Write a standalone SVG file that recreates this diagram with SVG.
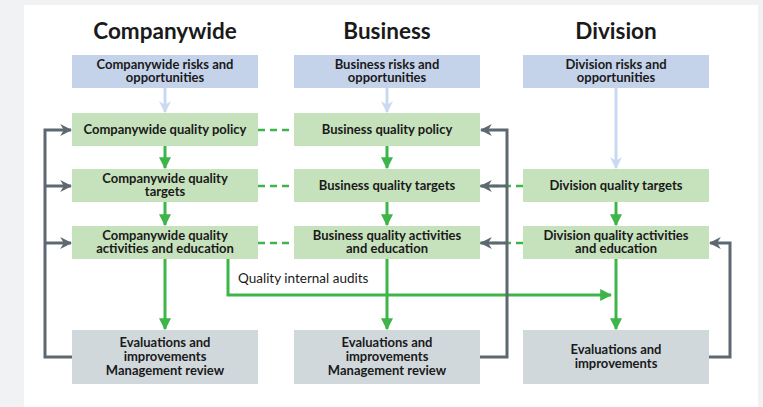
<svg xmlns="http://www.w3.org/2000/svg" width="763" height="407" viewBox="0 0 763 407">
<style>
text{font-family:Lato,"Open Sans","Liberation Sans",sans-serif;fill:#1a1a1a;text-anchor:middle}
.t{font-size:22.5px;font-weight:bold}
.b{font-size:13px;font-weight:bold}
.blue{fill:#c5d3ea}
.green{fill:#c6e2bc}
.gray{fill:#d1d8dc}
.ga{stroke:#3db54a;stroke-width:3;fill:none}
.gd{stroke:#3db54a;stroke-width:2.5;fill:none;stroke-dasharray:7 5}
.fb{stroke:#5e6870;stroke-width:3;fill:none}
.lb{stroke:#c9daf0;stroke-width:3;fill:none}
</style>
<defs>
<marker id="ag" viewBox="0 0 10 10" refX="9" refY="5" markerWidth="4" markerHeight="4" orient="auto" markerUnits="strokeWidth"><path d="M0,0 L10,5 L0,10 Z" fill="#3db54a"/></marker>
<marker id="ab" viewBox="0 0 10 10" refX="9" refY="5" markerWidth="4" markerHeight="4" orient="auto" markerUnits="strokeWidth"><path d="M0,0 L10,5 L0,10 L3,5 Z" fill="#c9daf0"/></marker>
<marker id="ay" viewBox="0 0 10 10" refX="9" refY="5" markerWidth="4" markerHeight="4" orient="auto" markerUnits="strokeWidth"><path d="M0,0 L10,5 L0,10 L3,5 Z" fill="#5e6870"/></marker>
</defs>
<rect width="763" height="407" fill="#f1f2f4"/>
<rect x="24" y="5" width="734" height="402" fill="#ffffff"/>
<text class="t" x="165" y="39">Companywide</text>
<text class="t" x="387" y="39">Business</text>
<text class="t" x="616" y="39">Division</text>
<g id="connectors">
<line class="lb" x1="165" y1="88" x2="165" y2="112" marker-end="url(#ab)"/>
<line class="lb" x1="387" y1="88" x2="387" y2="112" marker-end="url(#ab)"/>
<line class="lb" x1="616" y1="88" x2="616" y2="168" marker-end="url(#ab)"/>
<line class="ga" x1="165" y1="146" x2="165" y2="168" marker-end="url(#ag)"/>
<line class="ga" x1="165" y1="202" x2="165" y2="225" marker-end="url(#ag)"/>
<line class="ga" x1="165" y1="259" x2="165" y2="329" marker-end="url(#ag)"/>
<line class="ga" x1="387" y1="146" x2="387" y2="168" marker-end="url(#ag)"/>
<line class="ga" x1="387" y1="202" x2="387" y2="225" marker-end="url(#ag)"/>
<line class="ga" x1="387" y1="259" x2="387" y2="329" marker-end="url(#ag)"/>
<line class="ga" x1="616" y1="202" x2="616" y2="225" marker-end="url(#ag)"/>
<line class="ga" x1="616" y1="259" x2="616" y2="329" marker-end="url(#ag)"/>
<line class="gd" x1="258" y1="130" x2="294" y2="130"/>
<line class="gd" x1="258" y1="186" x2="294" y2="186"/>
<line class="gd" x1="258" y1="243" x2="294" y2="243"/>
<line class="gd" x1="480" y1="186" x2="523" y2="186"/>
<line class="gd" x1="480" y1="243" x2="523" y2="243"/>
<polyline class="ga" points="228,259 228,295 611,295" marker-end="url(#ag)"/>
<text x="238" y="283" style="font-size:13.5px;text-anchor:start">Quality internal audits</text>
<polyline class="fb" points="72,357 45,357 45,130 71,130" marker-end="url(#ay)"/>
<line class="fb" x1="45" y1="186" x2="71" y2="186" marker-end="url(#ay)"/>
<line class="fb" x1="45" y1="243" x2="71" y2="243" marker-end="url(#ay)"/>
<polyline class="fb" points="480,357 507,357 507,130 481,130" marker-end="url(#ay)"/>
<line class="fb" x1="507" y1="186" x2="481" y2="186" marker-end="url(#ay)"/>
<line class="fb" x1="507" y1="243" x2="481" y2="243" marker-end="url(#ay)"/>
<polyline class="fb" points="709,357 730,357 730,243 710,243" marker-end="url(#ay)"/>
</g>
<g id="c-risk"><rect class="blue" x="72" y="55" width="186" height="33"/><text class="b" x="165" y="69">Companywide risks and</text><text class="b" x="165" y="82">opportunities</text></g>
<g id="b-risk"><rect class="blue" x="294" y="55" width="186" height="33"/><text class="b" x="387" y="69">Business risks and</text><text class="b" x="387" y="82">opportunities</text></g>
<g id="d-risk"><rect class="blue" x="523" y="55" width="186" height="33"/><text class="b" x="616" y="69">Division risks and</text><text class="b" x="616" y="82">opportunities</text></g>
<g id="c-policy"><rect class="green" x="72" y="113" width="186" height="33"/><text class="b" x="165" y="134">Companywide quality policy</text></g>
<g id="b-policy"><rect class="green" x="294" y="113" width="186" height="33"/><text class="b" x="387" y="134">Business quality policy</text></g>
<g id="c-targets"><rect class="green" x="72" y="169" width="186" height="33"/><text class="b" x="165" y="183">Companywide quality</text><text class="b" x="165" y="196">targets</text></g>
<g id="b-targets"><rect class="green" x="294" y="169" width="186" height="33"/><text class="b" x="387" y="190">Business quality targets</text></g>
<g id="d-targets"><rect class="green" x="523" y="169" width="186" height="33"/><text class="b" x="616" y="190">Division quality targets</text></g>
<g id="c-act"><rect class="green" x="72" y="226" width="186" height="33"/><text class="b" x="165" y="240">Companywide quality</text><text class="b" x="165" y="253">activities and education</text></g>
<g id="b-act"><rect class="green" x="294" y="226" width="186" height="33"/><text class="b" x="387" y="240">Business quality activities</text><text class="b" x="387" y="253">and education</text></g>
<g id="d-act"><rect class="green" x="523" y="226" width="186" height="33"/><text class="b" x="616" y="240">Division quality activities</text><text class="b" x="616" y="253">and education</text></g>
<g id="c-eval"><rect class="gray" x="72" y="330" width="186" height="54"/><text class="b" x="165" y="347">Evaluations and</text><text class="b" x="165" y="361">improvements</text><text class="b" x="165" y="375">Management review</text></g>
<g id="b-eval"><rect class="gray" x="294" y="330" width="186" height="54"/><text class="b" x="387" y="347">Evaluations and</text><text class="b" x="387" y="361">improvements</text><text class="b" x="387" y="375">Management review</text></g>
<g id="d-eval"><rect class="gray" x="523" y="330" width="186" height="54"/><text class="b" x="616" y="354">Evaluations and</text><text class="b" x="616" y="368">improvements</text></g>
</svg>
